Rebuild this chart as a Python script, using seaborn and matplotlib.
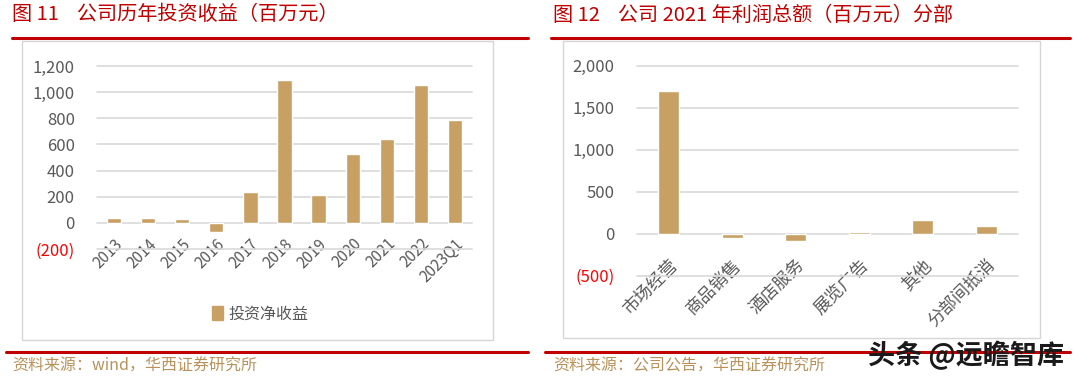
import matplotlib
matplotlib.use("Agg")
import matplotlib.pyplot as plt
from matplotlib.patches import Rectangle, Patch
from matplotlib.lines import Line2D
import pandas as pd
import seaborn as sns

# 图11 数据
years = ["2013", "2014", "2015", "2016", "2017", "2018", "2019", "2020", "2021", "2022", "2023Q1"]
invest_income = [35, 35, 27, -71, 233, 1095, 210, 527, 638, 1052, 786]

# 图12 数据
segments = ["市场经营", "商品销售", "酒店服务", "展览广告", "其他", "分部间抵消"]
segment_profit = [1698, -50, -88, 15, 162, 87]

left_yticks = [-200, 0, 200, 400, 600, 800, 1000, 1200]
right_yticks = [-500, 0, 500, 1000, 1500, 2000]

sns.set_style("white")
plt.rcParams['font.family'] = ['Noto Sans CJK SC', 'DejaVu Sans']

BAR = "#C9A063"
RED = "#C00000"
NEG = "#FF0000"
GRAY = "#595959"
GRID = "#D9D9D9"
SRC = "#B8925A"

fig = plt.figure(figsize=(10.8, 3.84), dpi=100)
W, H = 1080, 384


def fx(px):
    return px / W


def fy(py):
    return 1 - py / H


def fmt(v):
    if v < 0:
        return "({:,})".format(-v)
    return "{:,}".format(v)


def style_axis(ax, ticks, pad_x):
    ax.set_yticks(ticks)
    ax.set_yticklabels([fmt(t) for t in ticks])
    for lab, t in zip(ax.get_yticklabels(), ticks):
        lab.set_color(NEG if t < 0 else GRAY)
    ax.set_ylim(ticks[0], ticks[-1])
    for s in ax.spines.values():
        s.set_visible(False)
    ax.spines['bottom'].set_position(('data', 0))
    ax.yaxis.grid(True, color=GRID, linewidth=1.2)
    ax.set_axisbelow(True)
    ax.tick_params(axis='y', length=0, pad=16, labelsize=12)
    ax.tick_params(axis='x', length=0, pad=pad_x, colors=GRAY)
    ax.set_xlabel("")
    ax.set_ylabel("")
    for ln in ax.get_ygridlines():
        ln.set_clip_on(False)


# 外框与红线
for (x0, x1), (bx0, bx1, by0, by1) in [((12, 528), (22, 493, 41, 340)),
                                       ((551, 1070), (563, 1040, 41, 338))]:
    fig.add_artist(Rectangle((fx(bx0), fy(by1)), fx(bx1 - bx0), (by1 - by0) / H,
                             transform=fig.transFigure, fill=False,
                             edgecolor="#D6D6D6", linewidth=1.0))
    fig.add_artist(Line2D([fx(x0), fx(x1)], [fy(38), fy(38)], transform=fig.transFigure,
                          color=RED, linewidth=2.2))
    fig.add_artist(Line2D([fx(x0 - 6), fx(x1)], [fy(352), fy(352)], transform=fig.transFigure,
                          color=RED, linewidth=2.2))

fig.text(fx(12), fy(15), "图 11    公司历年投资收益（百万元）", color=RED,
         fontsize=14.5, va="center", ha="left")
fig.text(fx(553), fy(15), "图 12    公司 2021 年利润总额（百万元）分部", color=RED,
         fontsize=14.5, va="center", ha="left")

# 左图
ax1 = fig.add_axes([fx(97), fy(249), fx(472 - 97), (249 - 66) / H])
df1 = pd.DataFrame({"year": years, "value": invest_income})
sns.barplot(data=df1, x="year", y="value", color=BAR, width=0.42,
            saturation=1, ax=ax1)
ax1.set_xlim(-0.5, len(years) - 0.5)
style_axis(ax1, left_yticks, 9)
for lab in ax1.get_xticklabels():
    lab.set_rotation(45)
    lab.set_ha("right")
    lab.set_va("top")
    lab.set_rotation_mode("anchor")
    lab.set_fontsize(11)
ax1.legend(handles=[Patch(color=BAR, label="投资净收益")], loc="center",
           bbox_to_anchor=(fx(260), fy(314)), bbox_transform=fig.transFigure,
           frameon=False, handlelength=0.7, handleheight=0.9, handletextpad=0.3,
           fontsize=11.5, labelcolor=GRAY)

# 右图
ax2 = fig.add_axes([fx(637), fy(275.7), fx(1018 - 637), (275.7 - 65.7) / H])
df2 = pd.DataFrame({"segment": segments, "value": segment_profit})
sns.barplot(data=df2, x="segment", y="value", color=BAR, width=0.33,
            saturation=1, ax=ax2)
ax2.set_xlim(-0.5, len(segments) - 0.5)
style_axis(ax2, right_yticks, 16)
for lab in ax2.get_xticklabels():
    lab.set_rotation(45)
    lab.set_ha("right")
    lab.set_va("top")
    lab.set_rotation_mode("anchor")
    lab.set_fontsize(12.5)

# 资料来源
fig.text(fx(12), fy(366), "资料来源：wind，华西证券研究所", color=SRC,
         fontsize=11.5, va="center", ha="left")
fig.text(fx(553), fy(366), "资料来源：公司公告，华西证券研究所", color=SRC,
         fontsize=11.5, va="center", ha="left")
fig.text(fx(868), fy(356), "头条 @远瞻智库", color="#1A1A1A", fontsize=19.5,
         fontweight="bold", va="center", ha="left")

fig.savefig("out.png", dpi=100)
